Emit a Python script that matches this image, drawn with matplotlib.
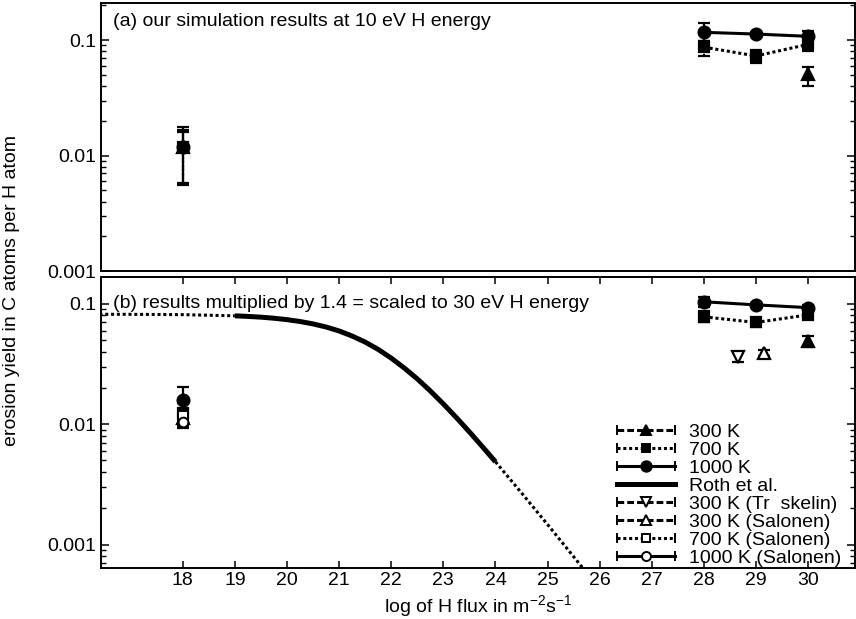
import matplotlib
matplotlib.use("Agg")
import matplotlib.pyplot as plt
from matplotlib.legend_handler import HandlerLine2D
from matplotlib.lines import Line2D
from matplotlib.ticker import LogLocator, FuncFormatter, NullFormatter

plt.rcParams['font.family'] = ['Liberation Sans', 'DejaVu Sans']
plt.rcParams['font.size'] = 14
plt.rcParams['mathtext.fontset'] = 'custom'
plt.rcParams['mathtext.rm'] = 'Liberation Sans'

# ---------------- data ----------------
low_flux = 18
high_flux = [28, 29, 30]

# (a) 10 eV results
a_low_300, a_low_300_err = 0.0118, (0.0056, 0.0160)
a_low_700, a_low_700_err = 0.0118, (0.0057, 0.0168)
a_low_1000, a_low_1000_err = 0.0118, (0.0058, 0.0178)

a_1000 = [0.117, 0.113, 0.108]
a_1000_lo = [0.098, 0.108, 0.098]
a_1000_hi = [0.140, 0.118, 0.120]
a_700 = [0.087, 0.073, 0.092]
a_700_lo = [0.073, 0.064, 0.080]
a_700_hi = [0.098, 0.083, 0.106]
a_300_flux = [30]
a_300 = [0.051]
a_300_lo = [0.040]
a_300_hi = [0.058]

# (b) scaled to 30 eV
b_low_300, b_low_300_err = 0.0113, (0.0093, 0.0135)
b_low_700, b_low_700_err = 0.0125, (0.0097, 0.0150)
b_low_1000, b_low_1000_err = 0.0158, (0.0115, 0.0205)

b_1000 = [0.104, 0.098, 0.093]
b_1000_lo = [0.095, 0.094, 0.088]
b_1000_hi = [0.114, 0.102, 0.098]
b_700 = [0.078, 0.070, 0.081]
b_700_lo = [0.070, 0.064, 0.075]
b_700_hi = [0.087, 0.076, 0.087]
b_300_flux = [30]
b_300 = [0.049]
b_300_lo = [0.044]
b_300_hi = [0.054]

trask_flux = [28.65]
trask_300 = [0.036]
trask_lo = [0.033]
trask_hi = [0.039]

sal_300_flux = [29.15]
sal_300 = [0.039]
sal_300_lo = [0.037]
sal_300_hi = [0.041]
sal_700_flux = [18]
sal_700 = [0.0118]
sal_1000_flux = [18]
sal_1000 = [0.0105]

# Roth et al. flux dependence
roth_left_x = [16.4, 17.0, 18.0, 19.0]
roth_left_y = [0.0819, 0.0818, 0.0813, 0.0795]
roth_x = [19.0, 19.25, 19.5, 19.75, 20.0, 20.25, 20.5, 20.75, 21.0, 21.25, 21.5,
          21.75, 22.0, 22.25, 22.5, 22.75, 23.0, 23.25, 23.5, 23.75, 24.0]
roth_y = [0.0795, 0.0786, 0.0775, 0.0759, 0.0739, 0.0713, 0.0681, 0.0642, 0.0595,
          0.0540, 0.0481, 0.0418, 0.0354, 0.0293, 0.0238, 0.0189, 0.01475, 0.01135,
          0.00864, 0.00651, 0.00488]
roth_right_x = [24.0, 24.5, 25.0, 25.5, 26.0]
roth_right_y = [0.00488, 0.00269, 0.00147, 0.000795, 0.000429]

xticks = list(range(18, 31))

# ---------------- styles ----------------
DOT = (0, (1.0, 0.9))
DASH = (0, (2.2, 1.0))
LW = 2.2

fig = plt.figure(figsize=(8.56, 6.19), dpi=100)
W, H = 856, 619
ax_a = fig.add_axes([101 / W, 1 - 271 / H, 754 / W, 268 / H])
ax_b = fig.add_axes([101 / W, 1 - 568 / H, 754 / W, 291 / H])


def err(ax, x, y, lo, hi, ls, marker, ms, mfc='k'):
    yerr = [[v - l for v, l in zip(y, lo)], [h - v for v, h in zip(y, hi)]]
    eb = ax.errorbar(x, y, yerr=yerr, fmt='none', ecolor='k', elinewidth=1.6,
                     capsize=4, capthick=1.6, zorder=3)
    for c in eb[2]:
        c.set_linestyle(ls)
    ax.plot(x, y, ls='none', marker=marker, ms=ms, mfc=mfc, mec='k', mew=1.6, zorder=4)


def series(ax, x, y, lo, hi, ls, marker, ms, mfc='k'):
    ax.plot(x, y, color='k', ls=ls, lw=LW, zorder=2)
    err(ax, x, y, lo, hi, ls, marker, ms, mfc)


def single(ax, x, y, rng, ls, marker, ms, mfc='k'):
    err(ax, [x], [y], [rng[0]], [rng[1]], ls, marker, ms, mfc)


# panel (a)
single(ax_a, low_flux, a_low_300, a_low_300_err, DASH, '^', 8)
single(ax_a, low_flux, a_low_700, a_low_700_err, DOT, 's', 7)
single(ax_a, low_flux, a_low_1000, a_low_1000_err, '-', 'o', 8.5)
series(ax_a, a_300_flux, a_300, a_300_lo, a_300_hi, DASH, '^', 8)
series(ax_a, high_flux, a_700, a_700_lo, a_700_hi, DOT, 's', 7)
series(ax_a, high_flux, a_1000, a_1000_lo, a_1000_hi, '-', 'o', 8.5)

# panel (b)
ax_b.plot(roth_left_x, roth_left_y, color='k', ls=DOT, lw=LW, zorder=2)
ax_b.plot(roth_x, roth_y, color='k', ls='-', lw=3.6, zorder=2, solid_capstyle='butt')
ax_b.plot(roth_right_x, roth_right_y, color='k', ls=DOT, lw=LW, zorder=2)

single(ax_b, low_flux, b_low_300, b_low_300_err, DASH, '^', 8)
single(ax_b, low_flux, b_low_700, b_low_700_err, DOT, 's', 7)
ax_b.plot(sal_700_flux, sal_700, ls='none', marker='s', ms=7, mfc='white', mec='k', mew=1.4, zorder=4)
ax_b.plot(sal_1000_flux, sal_1000, ls='none', marker='o', ms=7, mfc='white', mec='k', mew=1.4, zorder=4)
single(ax_b, low_flux, b_low_1000, b_low_1000_err, '-', 'o', 8.5)
series(ax_b, b_300_flux, b_300, b_300_lo, b_300_hi, DASH, '^', 8)
series(ax_b, high_flux, b_700, b_700_lo, b_700_hi, DOT, 's', 7)
series(ax_b, high_flux, b_1000, b_1000_lo, b_1000_hi, '-', 'o', 8.5)
series(ax_b, trask_flux, trask_300, trask_lo, trask_hi, DASH, 'v', 8, 'white')
series(ax_b, sal_300_flux, sal_300, sal_300_lo, sal_300_hi, DASH, '^', 8, 'white')

# axes formatting
fmt = FuncFormatter(lambda v, p: '%g' % v)
for ax, ylim in ((ax_a, (0.001, 0.21)), (ax_b, (0.00064, 0.167))):
    ax.set_yscale('log')
    ax.set_ylim(*ylim)
    ax.set_xlim(16.43, 30.9)
    ax.yaxis.set_major_locator(LogLocator(base=10, numticks=10))
    ax.yaxis.set_minor_locator(LogLocator(base=10, subs=range(2, 10), numticks=50))
    ax.yaxis.set_major_formatter(fmt)
    ax.yaxis.set_minor_formatter(NullFormatter())
    ax.tick_params(axis='y', which='both', direction='in', right=True, labelsize=14)
    ax.tick_params(axis='y', which='major', length=6, width=1.1)
    ax.tick_params(axis='y', which='minor', length=3.5, width=1.0)
    for s in ax.spines.values():
        s.set_linewidth(1.4)

ax_a.tick_params(axis='x', which='both', bottom=False, top=False, labelbottom=False)
ax_b.set_xticks(xticks)
ax_b.tick_params(axis='x', which='major', direction='in', top=True, length=5, width=1.1,
                 labelsize=14, pad=3)

ax_a.text(0.0155, 0.93, '(a) our simulation results at 10 eV H energy',
          transform=ax_a.transAxes, fontsize=14, va='center', ha='left')
ax_b.text(0.0155, 0.91, '(b) results multiplied by 1.4 = scaled to 30 eV H energy',
          transform=ax_b.transAxes, fontsize=14, va='center', ha='left')

fig.text(12 / W, 1 - 290 / H, 'erosion yield in C atoms per H atom', rotation=90,
         ha='center', va='center', fontsize=14)
fig.text(478 / W, 1 - 607 / H,
         r'log of H flux in m$^{\mathregular{-2}}$s$^{\mathregular{-1}}$',
         ha='center', va='center', fontsize=14)


# legend with errorbar-style end caps
class CapHandler(HandlerLine2D):
    def create_artists(self, legend, orig_handle, xdescent, ydescent, width,
                       height, fontsize, trans):
        arts = super().create_artists(legend, orig_handle, xdescent, ydescent,
                                      width, height, fontsize, trans)
        y = height / 2 - ydescent
        for x in (-xdescent, width - xdescent):
            arts.append(Line2D([x, x], [y - 3, y + 3], color='k', lw=1.4,
                               transform=trans))
        return arts


def h(ls, marker, ms, mfc='k', lw=LW):
    return Line2D([], [], color='k', ls=ls, lw=lw, marker=marker, ms=ms, mfc=mfc,
                  mec='k', mew=1.4)


handles = [h(DASH, '^', 7), h(DOT, 's', 6), h('-', 'o', 7.5), h('-', None, 0, lw=3.6),
           h(DASH, 'v', 7, 'white'), h(DASH, '^', 7, 'white'), h(DOT, 's', 6, 'white'),
           h('-', 'o', 6.5, 'white')]
labels = ['300 K', '700 K', '1000 K', 'Roth et al.', '300 K (Tr  skelin)',
          '300 K (Salonen)', '700 K (Salonen)', '1000 K (Salonen)']
hmap = {hd: CapHandler() for i, hd in enumerate(handles) if i != 3}
fig.legend(handles, labels, handler_map=hmap, loc='lower left',
           bbox_to_anchor=(617 / W, 1 - 567 / H), frameon=False, borderpad=0,
           borderaxespad=0, handlelength=3.0, handletextpad=0.7, labelspacing=0.02,
           fontsize=14)

fig.savefig('out.png', dpi=100)
